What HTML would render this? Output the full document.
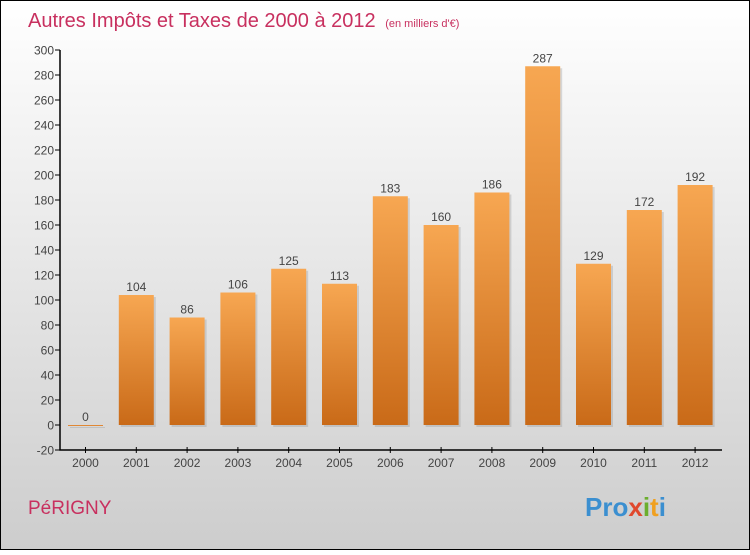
<!DOCTYPE html>
<html><head><meta charset="utf-8"><style>
body{margin:0;}
#c{width:750px;height:550px;position:relative;}
svg text{font-family:"Liberation Sans",sans-serif;}
</style></head><body>
<div id="c">
<svg id="s" width="750" height="550" xmlns="http://www.w3.org/2000/svg">
<defs>
<linearGradient id="bg" x1="0" y1="0" x2="0" y2="1"><stop offset="0" stop-color="#ffffff"/><stop offset="1" stop-color="#cdcdcd"/></linearGradient>
<linearGradient id="bar" x1="0" y1="0" x2="0" y2="1"><stop offset="0" stop-color="#f7a752"/><stop offset="1" stop-color="#c96a18"/></linearGradient>
</defs>
<rect x="0.5" y="0.5" width="749" height="549" fill="url(#bg)" stroke="#000"/>
<text x="28" y="27" font-size="20" fill="#c8305f">Autres Impôts et Taxes de 2000 à 2012 <tspan font-size="11" dx="4">(en milliers d'€)</tspan></text>
<text x="28" y="514" font-size="19" fill="#c8305f">PéRIGNY</text>
<text x="585" y="516" font-size="26" font-weight="bold"><tspan fill="#3b8fd0">Pro</tspan><tspan fill="#e0492e">x</tspan><tspan fill="#6cae2e">i</tspan><tspan fill="#f0a020">t</tspan><tspan fill="#3b8fd0">i</tspan></text>
<g id="plot"></g>
</svg>
</div>
<script>
const years=["2000","2001","2002","2003","2004","2005","2006","2007","2008","2009","2010","2011","2012"];
const values=[0,104,86,106,125,113,183,160,186,287,129,172,192];
const yTicks=[-20,0,20,40,60,80,100,120,140,160,180,200,220,240,260,280,300];
const NS="http://www.w3.org/2000/svg";
const g=document.getElementById('plot');
const y=v=>425-v*1.25;
const xc=i=>85.5+50.8*i;
function mk(t,a,p){const e=document.createElementNS(NS,t);for(const k in a)e.setAttribute(k,a[k]);(p||g).appendChild(e);return e;}
let ax=mk('path',{d:'M60,50V450H722',stroke:'#000','stroke-width':1.5,fill:'none'});


yTicks.forEach(v=>{
 mk('line',{x1:55,x2:60,y1:y(v),y2:y(v),stroke:'#000'});
 const t=mk('text',{x:54,y:y(v)+4.5,'text-anchor':'end','font-size':12,fill:'#444'});
 t.textContent=v;
 
 
});
years.forEach((yr,i)=>{
 mk('line',{x1:xc(i),x2:xc(i),y1:447,y2:453,stroke:'#000'});
 const t=mk('text',{x:xc(i),y:467,'text-anchor':'middle','font-size':12,fill:'#444'});
 t.textContent=yr;
 
 
 const v=values[i];
 const h=Math.max(v*1.25,1);
 mk('rect',{x:xc(i)-17.5+2,y:y(v)+2,width:35,height:h,fill:'#999',opacity:0.35});
 const r=mk('rect',{x:xc(i)-17.5,y:y(v),width:35,height:h,fill:'url(#bar)'});
 
 
 const l=mk('text',{x:xc(i),y:y(v)-4,'text-anchor':'middle','font-size':12,fill:'#444'});
 l.textContent=v;
 
 
});
</script>
</body></html>
